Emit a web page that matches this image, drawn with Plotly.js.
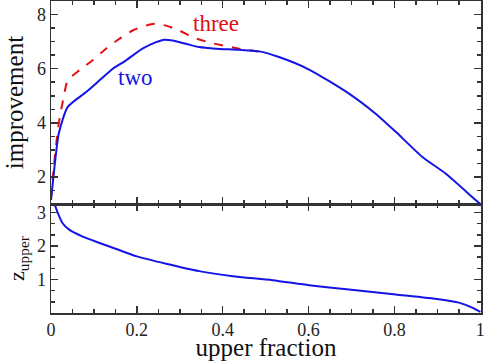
<!DOCTYPE html>
<html>
<head>
<meta charset="utf-8">
<script src="https://cdn.plot.ly/plotly-3.0.1.min.js"></script>
<style>
  html, body { margin: 0; padding: 0; background: #fff; }
  #plot { width: 485px; height: 361px; }
</style>
</head>
<body>
<div id="plot"></div>
<script>
// improvement curves (upper panel)
const twoX = [0, 0.0065, 0.018, 0.039, 0.082, 0.113, 0.144, 0.175, 0.213, 0.245, 0.264, 0.283, 0.314, 0.345, 0.384, 0.438, 0.485, 0.531, 0.601, 0.694, 0.756, 0.803, 0.865, 0.919, 0.989, 1.0];
const twoY = [1.15, 2.13, 3.6, 4.59, 5.14, 5.57, 6.0, 6.31, 6.74, 6.98, 7.07, 7.04, 6.92, 6.80, 6.74, 6.70, 6.64, 6.43, 5.97, 5.08, 4.34, 3.67, 2.74, 2.13, 1.15, 1.0];

const threeX = [0, 0.008, 0.018, 0.028, 0.039, 0.066, 0.097, 0.128, 0.159, 0.19, 0.221, 0.241, 0.268, 0.299, 0.330, 0.376, 0.438, 0.485];
const threeY = [1.2, 2.62, 3.97, 4.83, 5.57, 5.94, 6.31, 6.74, 7.10, 7.41, 7.59, 7.66, 7.59, 7.41, 7.16, 6.94, 6.74, 6.63];

// z_upper (lower panel)
const zX = [0.008, 0.016, 0.027, 0.043, 0.074, 0.113, 0.152, 0.2, 0.268, 0.345, 0.423, 0.516, 0.601, 0.694, 0.803, 0.903, 0.95, 0.981, 1.0];
const zY = [3.26, 2.98, 2.68, 2.48, 2.28, 2.09, 1.91, 1.69, 1.47, 1.25, 1.10, 0.98, 0.83, 0.70, 0.55, 0.41, 0.31, 0.16, 0.03];

const xTicks = [0, 0.2, 0.4, 0.6, 0.8, 1];
const xTickText = ["0", "0.2", "0.4", "0.6", "0.8", "1"];

const blue = "#1414e6";
const red = "#e01010";
const axisCol = "#333";
const serif = "Liberation Serif";  // a comma list is not drawn here, one name only

const traces = [
    { x: threeX, y: threeY, xaxis: "x2", yaxis: "y", type: "scatter", mode: "lines",
      line: { color: red, width: 2, dash: "dash", shape: "spline", smoothing: 0.6 }, name: "three" },
    { x: twoX, y: twoY, xaxis: "x2", yaxis: "y", type: "scatter", mode: "lines",
      line: { color: blue, width: 2, shape: "spline", smoothing: 0.6 }, name: "two" },
    { x: zX, y: zY, xaxis: "x", yaxis: "y2", type: "scatter", mode: "lines",
      line: { color: blue, width: 2, shape: "spline", smoothing: 0.6 }, name: "z" }
];

const common = {
    showline: true, linecolor: axisCol, linewidth: 1.5, mirror: "allticks",
    ticks: "inside", ticklen: 7, tickwidth: 1.5, tickcolor: axisCol,
    showgrid: false, zeroline: false, ticklabeloverflow: "allow",
    tickfont: { family: serif, size: 18, color: "#222" }
};

const layout = {
    width: 485, height: 361,
    margin: { l: 51, r: 4, t: 1, b: 48 },
    paper_bgcolor: "#fff", plot_bgcolor: "#fff",
    showlegend: false,
    font: { family: serif, color: "#222" },
    xaxis: Object.assign({}, common, {
        anchor: "y2", range: [0, 1.0015],
        tickvals: xTicks, ticktext: xTickText,
        minor: { dtick: 0.05, tick0: 0, ticks: "inside", ticklen: 4, tickcolor: axisCol },
        title: { text: "upper fraction", font: { family: serif, size: 25, color: "#111" }, standoff: 0 }
    }),
    xaxis2: Object.assign({}, common, {
        anchor: "y", matches: "x", showticklabels: false,
        tickvals: xTicks,
        minor: { dtick: 0.05, tick0: 0, ticks: "inside", ticklen: 4, tickcolor: axisCol }
    }),
    yaxis: Object.assign({}, common, {
        domain: [0.349, 1], range: [1, 8.5], dtick: 2, tick0: 0,
        minor: { dtick: 0.5, ticks: "inside", ticklen: 4, tickcolor: axisCol },
        title: { text: "improvement", font: { family: serif, size: 25, color: "#111" }, standoff: 6 }
    }),
    yaxis2: Object.assign({}, common, {
        domain: [0, 0.349], range: [0, 3.25],
        tickvals: [1, 2, 3],
        minor: { dtick: 1 / 3, tick0: 0, ticks: "inside", ticklen: 4, tickcolor: axisCol },
        title: { text: "z<sub>upper</sub>", font: { family: serif, size: 22, color: "#111" }, standoff: 6 }
    }),
    annotations: [
        { x: 0.385, y: 7.67, xref: "x2", yref: "y", text: "three", showarrow: false,
          font: { family: serif, size: 23, color: red } },
        { x: 0.197, y: 5.68, xref: "x2", yref: "y", text: "two", showarrow: false,
          font: { family: serif, size: 23, color: blue } }
    ]
};

Plotly.newPlot("plot", traces, layout, { staticPlot: true });
</script>
</body>
</html>
